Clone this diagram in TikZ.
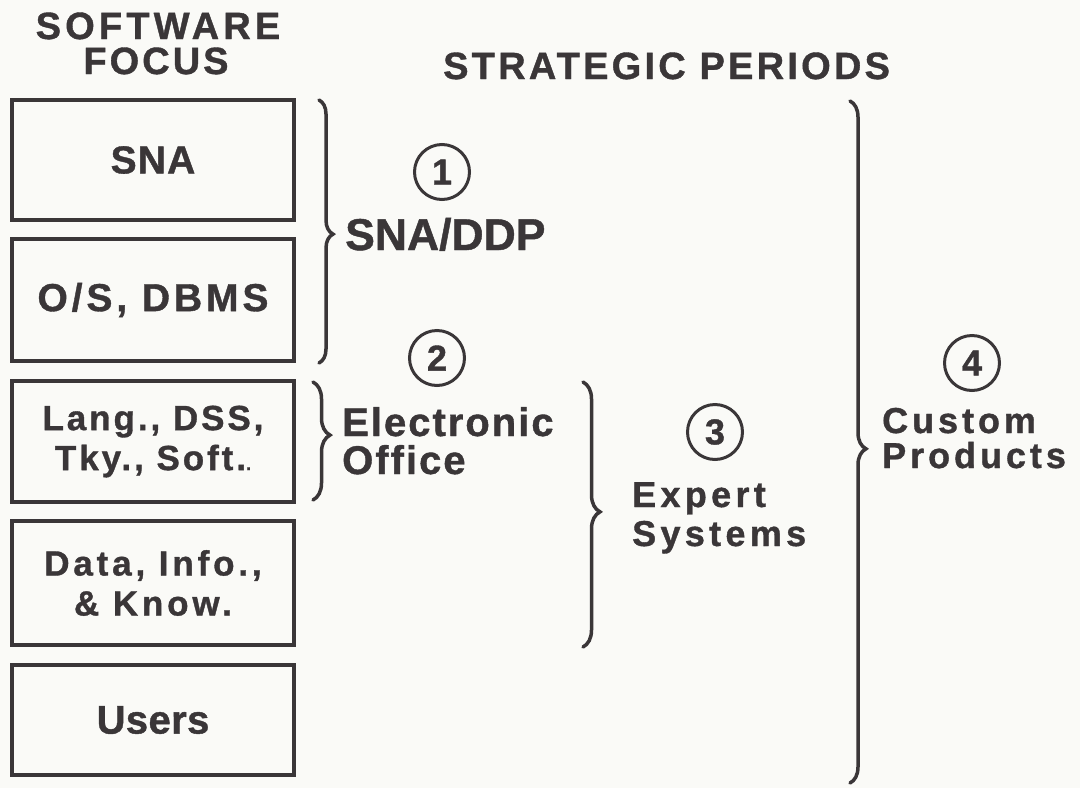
\documentclass[tikz,border=0pt]{standalone}
\usepackage{fontspec}
\setmainfont{Liberation Sans}
\usetikzlibrary{decorations.pathreplacing}
\definecolor{ink}{RGB}{58,54,56}
\definecolor{paper}{RGB}{250,250,247}
\newcommand{\hv}[3]{\bfseries\fontsize{#1}{#2}\selectfont\addfontfeature{LetterSpace=#3,FakeBold=1}}
\begin{document}
\begin{tikzpicture}[x=1pt,y=-1pt,
  box/.style={draw=ink,line width=4.5pt,minimum width=282pt,inner sep=0pt,text=ink,align=center},
  circ/.style={circle,draw=ink,line width=3pt,minimum size=55pt,inner sep=0pt,text=ink,font={\hv{36}{36}{0}}},
  lbl/.style={anchor=base west,inner sep=0pt,text=ink,text depth=0pt},
  ttl/.style={anchor=base,inner sep=0pt,text=ink,text depth=0pt},
  brc/.style={draw=ink,line width=3.5pt,line cap=round,decorate}]
\fill[paper] (0,0) rectangle (1080,788);
\useasboundingbox (0,0) rectangle (1080,788);
% titles
\node[ttl,font={\hv{38}{38}{11}}] (t1) at (158,39) {SOFTWARE};
\node[ttl,font={\hv{38}{38}{8}}] (t2) at (156,74) {FOCUS};
\node[lbl,font={\hv{38}{38}{8.5}}] (t3) at (443,79) {STRATEGIC PERIODS};
% boxes
\node[box,minimum height=120pt,font={\hv{39}{39}{3}}] (b1) at (153,160) {SNA};
\node[box,minimum height=122pt,font={\hv{39}{39}{10}}] (b2) at (153,300) {O/S, DBMS};
\node[box,minimum height=121pt,font={\hv{35}{40}{8.4}}] (b3) at (153,441.5) {Lang., DSS,\\Tky., Soft.{\fontsize{18}{18}\selectfont.}};
\node[box,minimum height=124pt,font={\hv{35}{40}{11}}] (b4) at (153,583) {Data, Info.,\\\& Know.};
\node[box,minimum height=110pt,font={\hv{40}{40}{1}}] (b5) at (153,720) {Users};
% braces
\coordinate (a1) at (319,100); \coordinate (z1) at (319,363);
\coordinate (a2) at (313,382); \coordinate (z2) at (313,500);
\coordinate (a3) at (583,382); \coordinate (z3) at (583,647);
\coordinate (a4) at (850,101); \coordinate (z4) at (850,783);
\draw[brc,decoration={brace,amplitude=14pt,aspect=0.51}] (a1) -- (z1);
\draw[brc,decoration={brace,amplitude=17pt,aspect=0.45}] (a2) -- (z2);
\draw[brc,decoration={brace,amplitude=17pt,aspect=0.49}] (a3) -- (z3);
\draw[brc,decoration={brace,amplitude=16pt,aspect=0.51}] (a4) -- (z4);
% period labels
\node[circ] (c1) at (442,172) {1};
\node[lbl,font={\hv{44.5}{44.5}{0}}] (p1) at (345,250) {SNA/DDP};
\node[circ] (c2) at (437,358) {2};
\node[lbl,font={\hv{40}{40}{5}}] (p2a) at (342,436) {Electronic};
\node[lbl,font={\hv{40}{40}{5}}] (p2b) at (342,474) {Office};
\node[circ] (c3) at (715,432) {3};
\node[lbl,font={\hv{36}{36}{12}}] (p3a) at (632,507) {Expert};
\node[lbl,font={\hv{36}{36}{12}}] (p3b) at (632,546) {Systems};
\node[circ] (c4) at (972,363) {4};
\node[lbl,font={\hv{36}{36}{11}}] (p4a) at (882,433) {Custom};
\node[lbl,font={\hv{36}{36}{11}}] (p4b) at (882,468) {Products};
\end{tikzpicture}
\end{document}
